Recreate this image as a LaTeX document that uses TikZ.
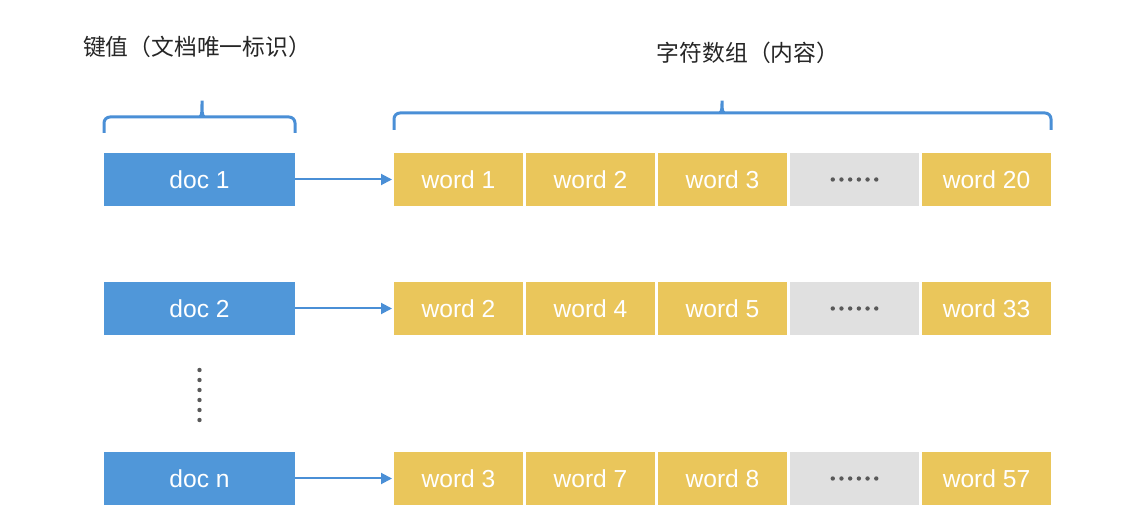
\documentclass[tikz,border=0pt]{standalone}
\usepackage{fontspec}
\setmainfont{Liberation Sans}
\newfontfamily\cjk{Noto Sans CJK SC}
\usetikzlibrary{positioning,arrows.meta}
\definecolor{docblue}{HTML}{5097D9}
\definecolor{wordgold}{HTML}{EAC65B}
\definecolor{gapgray}{HTML}{E0E0E0}
\definecolor{dotgray}{HTML}{595959}
\definecolor{bracec}{HTML}{4A8FD6}

\begin{document}
\begin{tikzpicture}[x=0.5pt,y=-0.5pt,
  every node/.style={inner sep=0pt,outer sep=0pt,font=\fontsize{12.3}{14}\selectfont},
  doc/.style={fill=docblue,text=white,minimum width=95.5pt,minimum height=26.5pt},
  word/.style={fill=wordgold,text=white,minimum width=64.5pt,minimum height=26.5pt},
  gap/.style={fill=gapgray,minimum width=64.5pt,minimum height=26.5pt},
  link/.style={draw=bracec,line width=1pt,-{Triangle[length=5.5pt,width=5.5pt]},shorten >=1pt},
  brace/.style={draw=bracec,line width=1.5pt,rounded corners=3pt},
  title/.style={text=black!85,font=\cjk\fontsize{11.4}{13}\selectfont}]
\useasboundingbox (0,0) rectangle (1146,528);
% titles
\node[title] (keylbl) at (197,47) {键值（文档唯一标识）};
\node[title] (arrlbl) at (748,53) {字符数组（内容）};
% braces
\draw[brace] (104,133) -- (104,117) -- (199,117)
      .. controls (202,117) and (202,112) .. (202,97)
      .. controls (202,112) and (202,117) .. (205,117) -- (295,117) -- (295,133);
\draw[brace] (394,130) -- (394,113) -- (719,113)
      .. controls (722,113) and (722,108) .. (722,97)
      .. controls (722,108) and (722,113) .. (725,113) -- (1051,113) -- (1051,130);
% rows
\foreach \r/\y/\a/\b/\c/\e in {1/179.5/1/2/3/20, 2/308.5/2/4/5/33, n/478.5/3/7/8/57}{
  \node[doc] (doc\r) at (199.5,\y) {doc \r};
  \node[word] (c\r-1) at (458.5,\y) {word \a};
  \node[word,right=1.5pt of c\r-1] (c\r-2) {word \b};
  \node[word,right=1.5pt of c\r-2] (c\r-3) {word \c};
  \node[gap,right=1.5pt of c\r-3] (c\r-4) {};
  \node[word,right=1.5pt of c\r-4] (c\r-5) {word \e};
  \draw[link] (doc\r) -- (c\r-1);
  \foreach \k in {-2.5,-1.5,...,2.5}
    \fill[dotgray] (c\r-4.center) ++(\k*8.7,0) circle (1.1pt);
}
% vertical dots
\foreach \k in {0,...,5}
  \fill[dotgray] (doc2.south) ++(0,35+\k*10) circle (1.1pt);
\end{tikzpicture}
\end{document}
